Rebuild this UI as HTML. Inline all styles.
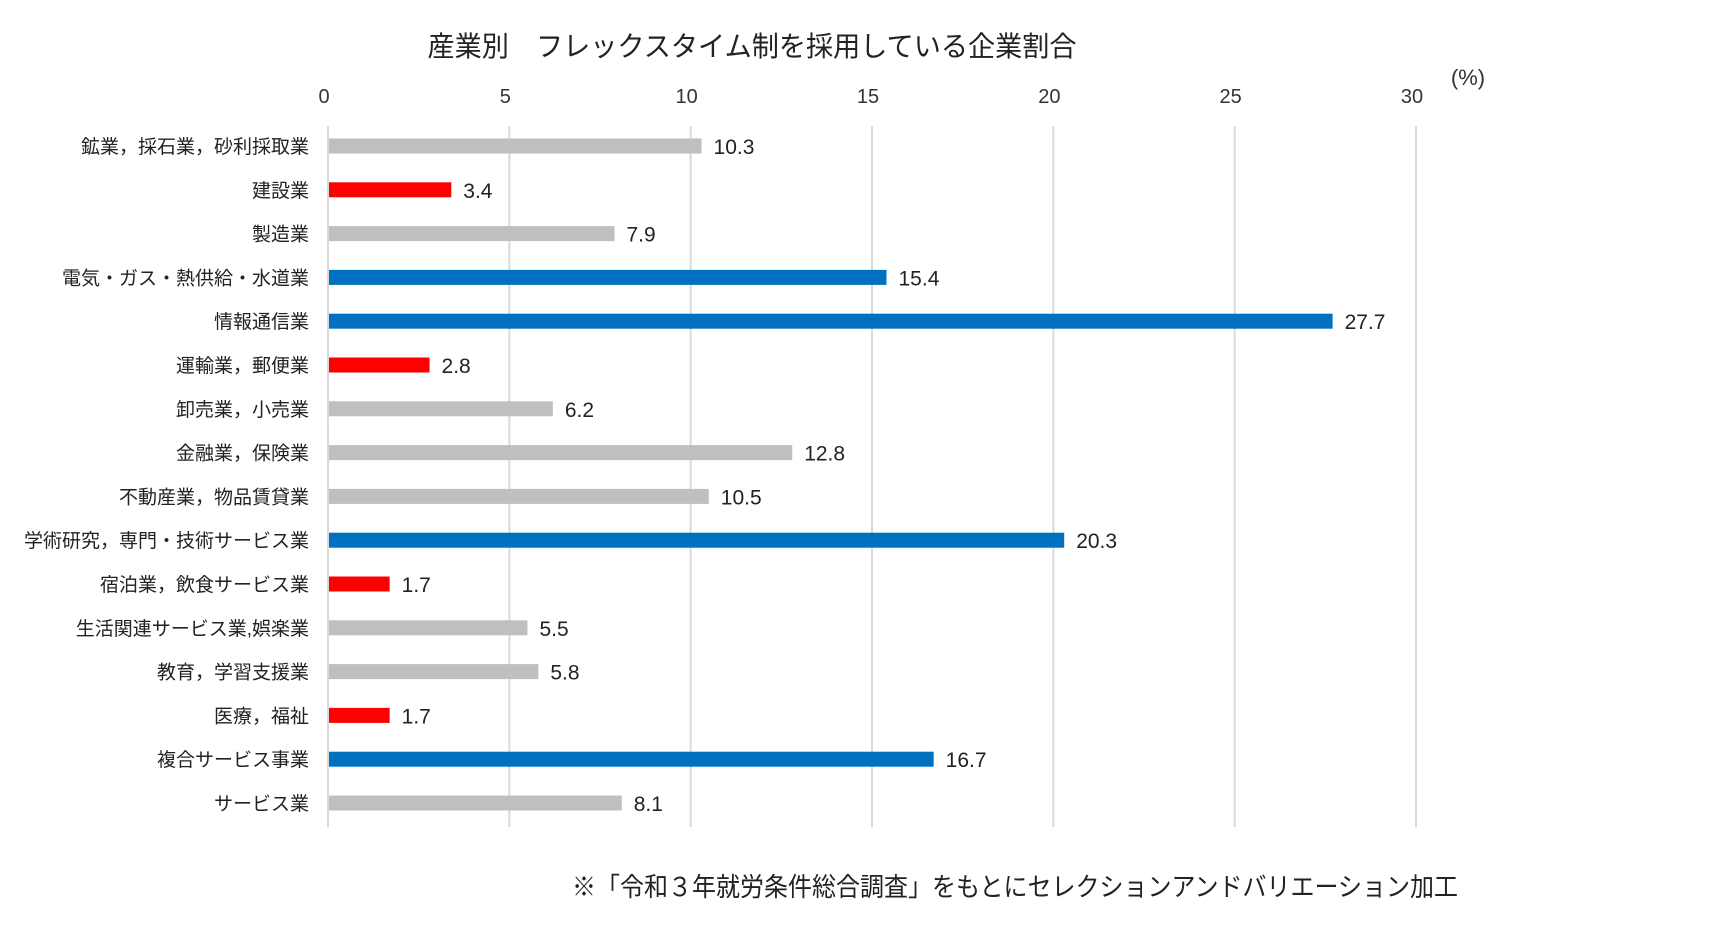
<!DOCTYPE html>
<html><head><meta charset="utf-8">
<style>
html,body{margin:0;padding:0;background:#fff;width:1716px;height:925px;overflow:hidden}
svg{display:block;font-family:"Liberation Sans","Noto Sans CJK JP",sans-serif}
</style></head>
<body>
<svg id="chart" width="1716" height="925" viewBox="0 0 1716 925" xmlns="http://www.w3.org/2000/svg">
<text x="752" y="56" font-size="28" text-anchor="middle" textLength="649" lengthAdjust="spacingAndGlyphs" fill="#222">産業別　フレックスタイム制を採用している企業割合</text>
<text x="1468" y="85" font-size="22" text-anchor="middle" fill="#333">(%)</text>
<g id="grid"></g><g id="bars"></g>
<text x="1458" y="896" font-size="26" text-anchor="end" textLength="886" lengthAdjust="spacingAndGlyphs" fill="#222">※「令和３年就労条件総合調査」をもとにセレクションアンドバリエーション加工</text>
</svg>
<script>
const categories=["鉱業，採石業，砂利採取業","建設業","製造業","電気・ガス・熱供給・水道業","情報通信業","運輸業，郵便業","卸売業，小売業","金融業，保険業","不動産業，物品賃貸業","学術研究，専門・技術サービス業","宿泊業，飲食サービス業","生活関連サービス業,娯楽業","教育，学習支援業","医療，福祉","複合サービス事業","サービス業"];
const values=[10.3,3.4,7.9,15.4,27.7,2.8,6.2,12.8,10.5,20.3,1.7,5.5,5.8,1.7,16.7,8.1];
const groups=["g","r","g","b","b","r","g","g","g","b","r","g","g","r","b","g"];
const ticks=[0,5,10,15,20,25,30];
const NS="http://www.w3.org/2000/svg";
const x0=328,x1=1416,xmax=30;
const xs=v=>x0+(x1-x0)*v/xmax;
const yTop=126,yBot=827,y0=146,step=43.8;
const ys=i=>y0+i*step;
const colors={g:"#bfbfbf",r:"#ff0000",b:"#0070c0"};
function mk(t,a,p){const e=document.createElementNS(NS,t);for(const k in a)e.setAttribute(k,a[k]);p.appendChild(e);return e;}
const grid=document.getElementById('grid'),bars=document.getElementById('bars');
ticks.forEach(t=>{
 const l=mk('line',{x1:xs(t),x2:xs(t),y1:yTop,y2:yBot,stroke:"#d9d9d9","stroke-width":2},grid);
 
 
 const tx=mk('text',{x:xs(t)-4,y:103,"font-size":20,"text-anchor":"middle",fill:"#333"},grid);
 tx.textContent=t;
 
 
});
categories.forEach((c,i)=>{
 const y=ys(i);
 const lb=mk('text',{x:309,y:y+7,"font-size":19,"text-anchor":"end",fill:"#222"},bars);
 lb.textContent=c;
 
 
 const r=mk('rect',{x:x0+1,y:y-7.5,width:xs(values[i])-x0-1,height:15,fill:colors[groups[i]]},bars);
 
 
 const v=mk('text',{x:xs(values[i])+12,y:y+8,"font-size":21,fill:"#222"},bars);
 v.textContent=values[i].toFixed(1);
 
 
});
</script>
</body></html>
